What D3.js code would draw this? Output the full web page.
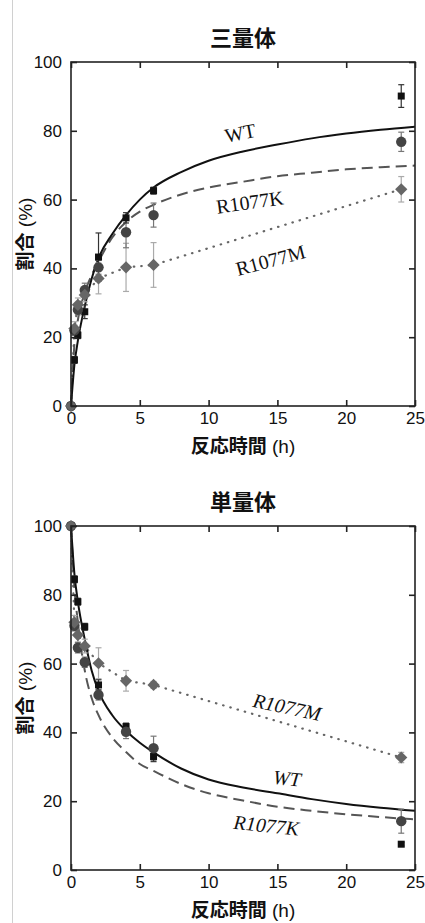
<!DOCTYPE html>
<html>
<head>
<meta charset="utf-8">
<script src="https://cdn.jsdelivr.net/npm/d3@7"></script>
<style>
  body { margin: 0; background: #fff; }
  svg { display: block; }
</style>
</head>
<body>
<div id="chart"></div>
<script>
// Sampling times (h)
const times = [0, 0.25, 0.5, 1, 2, 4, 6, 24];
const xTicks = [0, 5, 10, 15, 20, 25];
const yTicks = [0, 20, 40, 60, 80, 100];

// Trimer (三量体) — measured points and error bars
const triWT = [0, 13.4, 20.6, 27.4, 43.3, 54.7, 62.6, 90.1];
const triWTErr = [0, 1, 1, 2, 7, 1.5, 1, 3.3];
const triK = [0, 22, 28, 33.7, 40.3, 50.5, 55.5, 76.8];
const triKErr = [0, 1.5, 1.5, 2, 2, 4.5, 3.5, 2.8];
const triM = [0, 22.5, 29.4, 32.3, 37.1, 40.3, 41, 63];
const triMErr = [0, 2, 2, 2, 4.5, 7, 6.5, 3.7];

// Trimer fitted curves
const fitT = [0, 0.25, 0.5, 1, 1.5, 2, 3, 4, 5, 6, 8, 10, 12.5, 15, 17.5, 20, 22.5, 25];
const triWTFit = [0, 12, 19, 29, 37, 43, 50, 55.5, 60, 63.5, 68, 71.3, 74, 76, 77.8, 79.2, 80.3, 81.2];
const triKFit = [0, 18, 25, 33, 38, 42, 49, 53.5, 56.5, 58.5, 61.5, 63.5, 65.2, 66.8, 67.8, 68.8, 69.4, 69.9];

// Monomer (単量体) — measured points and error bars
const monoWT = [100, 84.5, 78, 70.7, 53.8, 41.7, 33, 7.5];
const monoWTErr = [0, 1, 1, 1, 1.5, 1, 1.5, 0.5];
const monoK = [100, 71, 64.6, 60.4, 50.9, 40.2, 35.4, 14.2];
const monoKErr = [0, 1.5, 1.5, 1.5, 1.5, 2, 3.5, 3.5];
const monoM = [100, 72, 68.3, 65.1, 60.1, 55, 53.8, 32.7];
const monoMErr = [0, 2, 2, 2, 4.5, 3, 1, 1.5];

// Monomer fitted curves
const monoWTFit = [100, 86, 78, 67, 58, 52, 45, 40.5, 37, 34.2, 29.5, 26.3, 24, 22.3, 20.6, 19.2, 18.1, 17.2];
const monoKFit = [100, 82, 72, 58, 50, 45, 38.5, 34.3, 30.8, 28.8, 25, 22.3, 20.2, 18.4, 17.2, 16.2, 15.4, 14.7];

const W = 425, H = 923;
const svg = d3.select('#chart').append('svg')
    .attr('width', W).attr('height', H);

// light page border on the left
svg.append('line')
    .attr('x1', 12.5).attr('x2', 12.5).attr('y1', 0).attr('y2', H)
    .attr('stroke', '#d0d0d0').attr('stroke-width', 1);

const sansFont = 'Helvetica, Arial, "Liberation Sans", sans-serif';
const cjkFont = '"Noto Sans CJK JP", "Noto Sans CJK SC", sans-serif';
const serifFont = '"Liberation Serif", "Times New Roman", serif';

const markerColors = { wt: '#111', k: '#444', m: '#666' };

function drawPanel(cfg) {
    const x = d3.scaleLinear().domain([0, 25]).range([71, 415]);
    const y = d3.scaleLinear().domain([0, 100]).range([cfg.bottom, cfg.top]);
    const g = svg.append('g');

    // title
    g.append('text')
        .attr('x', 243).attr('y', cfg.top - 16)
        .attr('text-anchor', 'middle')
        .attr('font-family', cjkFont).attr('font-weight', 700)
        .attr('font-size', '22px').attr('fill', '#111')
        .text(cfg.title);

    // curves
    const fitLine = d3.line()
        .x((d, i) => x(fitT[i]))
        .y(d => y(d))
        .curve(d3.curveMonotoneX);
    const dataLine = d3.line()
        .x((d, i) => x(times[i]))
        .y(d => y(d));

    g.append('path').datum(cfg.mVals)
        .attr('d', dataLine)
        .attr('fill', 'none').attr('stroke', '#666')
        .attr('stroke-width', 2.2).attr('stroke-linecap', 'round')
        .attr('stroke-dasharray', '0.5,7');
    g.append('path').datum(cfg.kFit)
        .attr('d', fitLine)
        .attr('fill', 'none').attr('stroke', '#555')
        .attr('stroke-width', 2).attr('stroke-dasharray', '11,6');
    g.append('path').datum(cfg.wtFit)
        .attr('d', fitLine)
        .attr('fill', 'none').attr('stroke', '#111')
        .attr('stroke-width', 2);

    // error bars
    function errBars(vals, errs, color) {
        const eb = g.append('g').attr('stroke', color).attr('stroke-width', 1.2);
        vals.forEach((v, i) => {
            if (!errs[i]) return;
            const cx = x(times[i]);
            eb.append('line').attr('x1', cx).attr('x2', cx)
                .attr('y1', y(v - errs[i])).attr('y2', y(v + errs[i]));
            [v - errs[i], v + errs[i]].forEach(e => {
                eb.append('line').attr('x1', cx - 3).attr('x2', cx + 3)
                    .attr('y1', y(e)).attr('y2', y(e));
            });
        });
    }
    errBars(cfg.mVals, cfg.mErr, '#aaa');
    errBars(cfg.kVals, cfg.kErr, '#777');
    errBars(cfg.wtVals, cfg.wtErr, '#333');

    // markers: squares, then circles, then diamonds on top
    g.append('g').selectAll('rect')
        .data(cfg.wtVals)
        .join('rect')
        .attr('x', (d, i) => x(times[i]) - 3.5)
        .attr('y', d => y(d) - 3.5)
        .attr('width', 7).attr('height', 7)
        .attr('fill', markerColors.wt);
    g.append('g').selectAll('circle')
        .data(cfg.kVals)
        .join('circle')
        .attr('cx', (d, i) => x(times[i]))
        .attr('cy', d => y(d))
        .attr('r', 5.2)
        .attr('fill', markerColors.k);
    g.append('g').selectAll('path')
        .data(cfg.mVals)
        .join('path')
        .attr('d', d3.symbol(d3.symbolDiamond2, 95))
        .attr('transform', (d, i) => `translate(${x(times[i])},${y(d)})`)
        .attr('fill', markerColors.m);

    // frame + inward ticks on all four sides
    const axisColor = '#222';
    g.append('rect')
        .attr('x', x(0)).attr('y', y(100))
        .attr('width', x(25) - x(0)).attr('height', y(0) - y(100))
        .attr('fill', 'none').attr('stroke', axisColor).attr('stroke-width', 1.6);

    const bottomAxis = d3.axisBottom(x).tickValues(xTicks).tickSizeInner(-6).tickSizeOuter(0).tickPadding(6);
    const topAxis = d3.axisTop(x).tickValues(xTicks).tickSizeInner(-6).tickSizeOuter(0).tickFormat('');
    const leftAxis = d3.axisLeft(y).tickValues(yTicks).tickSizeInner(-6).tickSizeOuter(0).tickPadding(9);
    const rightAxis = d3.axisRight(y).tickValues(yTicks).tickSizeInner(-6).tickSizeOuter(0).tickFormat('');

    [[bottomAxis, `translate(0,${y(0)})`], [topAxis, `translate(0,${y(100)})`],
     [leftAxis, `translate(${x(0)},0)`], [rightAxis, `translate(${x(25)},0)`]].forEach(([ax, tr]) => {
        const a = g.append('g').attr('transform', tr).call(ax);
        a.select('.domain').remove();
        a.selectAll('line').attr('stroke', axisColor).attr('stroke-width', 1.6);
        a.selectAll('text')
            .attr('font-family', sansFont)
            .attr('font-size', '17px').attr('fill', '#111');
    });

    // axis titles
    const xt = g.append('text')
        .attr('x', 243).attr('y', cfg.bottom + 47)
        .attr('text-anchor', 'middle')
        .attr('font-size', '19px').attr('fill', '#111');
    xt.append('tspan').attr('font-family', cjkFont).attr('font-weight', 700).text('反応時間');
    xt.append('tspan').attr('font-family', sansFont).text(' (h)');

    const yc = (cfg.top + cfg.bottom) / 2;
    const yt = g.append('text')
        .attr('transform', `translate(32,${yc}) rotate(-90)`)
        .attr('text-anchor', 'middle')
        .attr('font-size', '19px').attr('fill', '#111');
    yt.append('tspan').attr('font-family', cjkFont).attr('font-weight', 700).text('割合');
    yt.append('tspan').attr('font-family', sansFont).text(' (%)');

    // series labels
    cfg.labels.forEach(l => {
        g.append('text')
            .attr('transform', `translate(${x(l.t)},${y(l.v)}) rotate(${l.rot})`)
            .attr('text-anchor', 'middle')
            .attr('dominant-baseline', 'central')
            .attr('font-family', serifFont)
            .attr('font-style', cfg.italic ? 'italic' : 'normal')
            .attr('font-size', '20px').attr('fill', '#111')
            .text(l.text);
    });
}

drawPanel({
    title: '三量体', top: 62, bottom: 406, italic: false,
    wtVals: triWT, wtErr: triWTErr, kVals: triK, kErr: triKErr, mVals: triM, mErr: triMErr,
    wtFit: triWTFit, kFit: triKFit,
    labels: [
        { text: 'WT', t: 12.3, v: 79.4, rot: -11 },
        { text: 'R1077K', t: 13, v: 59.3, rot: -8 },
        { text: 'R1077M', t: 14.5, v: 42.4, rot: -15 }
    ]
});

drawPanel({
    title: '単量体', top: 526, bottom: 870, italic: true,
    wtVals: monoWT, wtErr: monoWTErr, kVals: monoK, kErr: monoKErr, mVals: monoM, mErr: monoMErr,
    wtFit: monoWTFit, kFit: monoKFit,
    labels: [
        { text: 'WT', t: 15.7, v: 26.7, rot: 6 },
        { text: 'R1077K', t: 14.2, v: 13, rot: 6 },
        { text: 'R1077M', t: 15.7, v: 47.4, rot: 12 }
    ]
});
</script>
</body>
</html>
